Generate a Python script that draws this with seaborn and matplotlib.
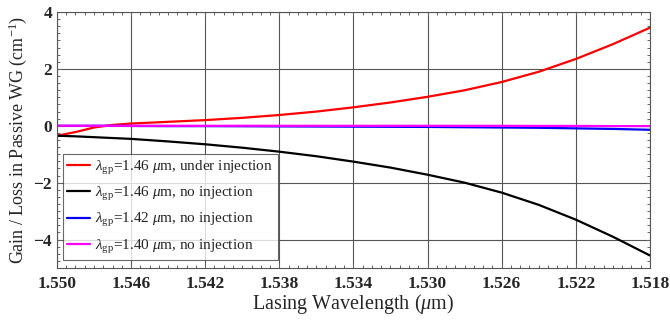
import numpy as np
import pandas as pd
import matplotlib
matplotlib.use("Agg")
import matplotlib.pyplot as plt
from matplotlib.ticker import FixedLocator, FormatStrFormatter
import seaborn as sns

# Lasing wavelength samples (um)
wavelength = [1.550, 1.549, 1.548, 1.547, 1.546, 1.544, 1.542, 1.540, 1.538,
              1.536, 1.534, 1.532, 1.530, 1.528, 1.526, 1.524, 1.522, 1.520, 1.518]

# Gain / loss in the passive waveguide (cm^-1)
gain_146_inj = [-0.35, -0.22, -0.06, 0.03, 0.08, 0.14, 0.20, 0.28, 0.38,
                0.50, 0.65, 0.82, 1.02, 1.25, 1.54, 1.90, 2.35, 2.87, 3.45]
loss_146_noinj = [-0.35, -0.37, -0.40, -0.43, -0.46, -0.55, -0.65, -0.77, -0.91,
                  -1.07, -1.26, -1.47, -1.72, -2.00, -2.35, -2.78, -3.30, -3.90, -4.56]
loss_142_noinj = [0.0, 0.0, 0.0, 0.0, -0.005, -0.01, -0.01, -0.015, -0.02,
                  -0.025, -0.03, -0.035, -0.04, -0.05, -0.06, -0.07, -0.09, -0.11, -0.14]
loss_140_noinj = [0.0, 0.0, 0.0, 0.0, 0.0, 0.0, 0.0, 0.0, 0.0,
                  0.0, 0.0, 0.0, 0.0, 0.0, 0.0, -0.005, -0.005, -0.01, -0.01]

x_ticks = [1.550, 1.546, 1.542, 1.538, 1.534, 1.530, 1.526, 1.522, 1.518]
y_ticks = [-4, -2, 0, 2, 4]

labels = [r"$\lambda_{\mathrm{gp}}$=1.46 $\mu$m, under injection",
          r"$\lambda_{\mathrm{gp}}$=1.46 $\mu$m, no injection",
          r"$\lambda_{\mathrm{gp}}$=1.42 $\mu$m, no injection",
          r"$\lambda_{\mathrm{gp}}$=1.40 $\mu$m, no injection"]
colors = ["#ff0000", "#000000", "#0000ff", "#ff00ff"]

frames = []
for lab, vals in zip(labels, [gain_146_inj, loss_146_noinj, loss_142_noinj, loss_140_noinj]):
    frames.append(pd.DataFrame({"wl": wavelength, "g": vals, "case": lab}))
df = pd.concat(frames, ignore_index=True)

sns.set_style("white")
plt.rcParams["font.family"] = ["Liberation Serif", "DejaVu Serif"]
plt.rcParams["mathtext.fontset"] = "custom"
plt.rcParams["mathtext.rm"] = "Liberation Serif"
plt.rcParams["mathtext.it"] = "Liberation Serif:italic"
plt.rcParams["mathtext.bf"] = "Liberation Serif:bold"

fig = plt.figure(figsize=(6.7, 3.26), dpi=100)
ax = fig.add_axes([0.085, 0.178, 0.885, 0.785])

sns.lineplot(data=df, x="wl", y="g", hue="case", palette=colors,
             hue_order=labels, linewidth=1.6, ax=ax, legend=True)

ax.set_xlim(1.550, 1.518)
ax.set_ylim(-5, 4)
ax.xaxis.set_major_locator(FixedLocator(x_ticks))
ax.xaxis.set_minor_locator(FixedLocator(np.arange(1.518, 1.55001, 0.0005)))
ax.xaxis.set_major_formatter(FormatStrFormatter("%.3f"))
ax.yaxis.set_major_locator(FixedLocator(y_ticks))
ax.yaxis.set_minor_locator(FixedLocator(np.arange(-5, 4.001, 0.25)))
ax.grid(True, which="major", color="#555555", linewidth=0.8)
ax.grid(False, which="minor")
ax.tick_params(which="both", direction="in", top=True, right=True,
               bottom=True, left=True,
               labelsize=12.5, length=3, width=0.7, color="#666666")
ax.tick_params(which="minor", length=2)
ax.tick_params(axis="x", pad=6)
for t in ax.get_xticklabels() + ax.get_yticklabels():
    t.set_fontweight("bold")
for s in ax.spines.values():
    s.set_color("#555555")
    s.set_linewidth(0.8)

ax.set_xlabel(r"Lasing Wavelength ($\mu$m)", fontsize=14.5, labelpad=0)
ax.set_ylabel(r"Gain / Loss in Passive WG (cm$^{-1}$)", fontsize=13, labelpad=3)

leg = ax.legend(loc="lower left", bbox_to_anchor=(0.01, 0.03), fontsize=11,
                frameon=True, fancybox=False, edgecolor="#444444",
                handlelength=1.5, handletextpad=0.3, labelspacing=0.55,
                borderpad=0.3, borderaxespad=0)
leg.get_frame().set_linewidth(0.8)

fig.savefig("out.png", dpi=100)
